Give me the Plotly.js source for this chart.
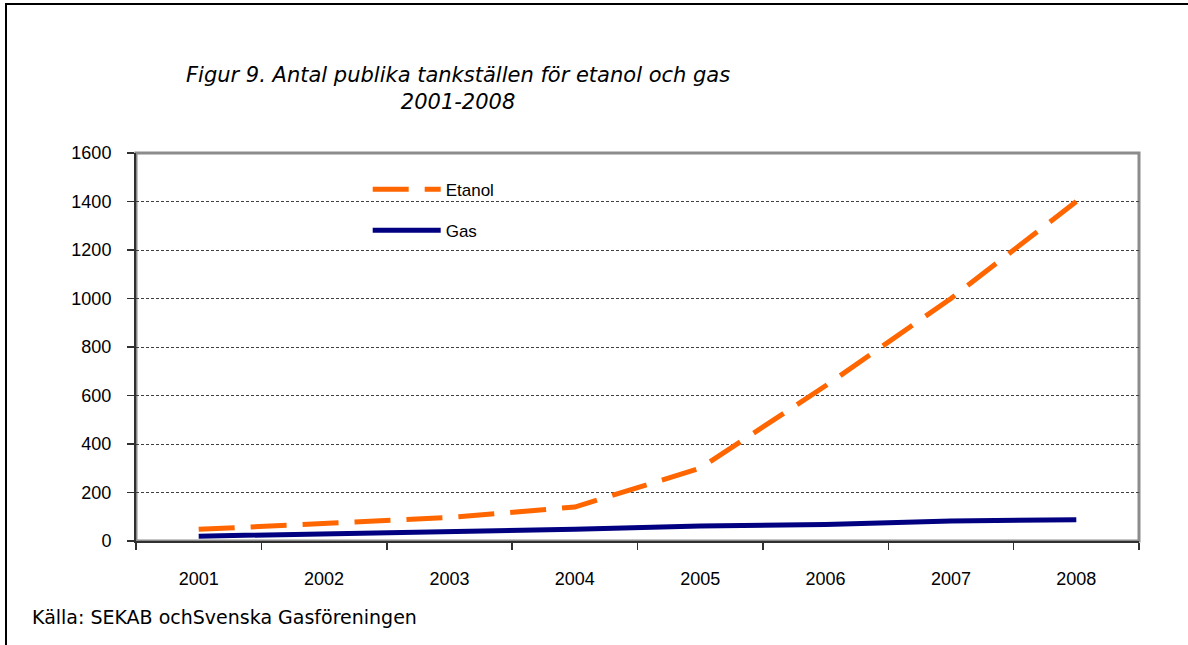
<!DOCTYPE html>
<html>
<head>
<meta charset="utf-8">
<script src="https://cdn.plot.ly/plotly-3.0.1.min.js"></script>
<style>
  html, body { margin: 0; padding: 0; background: #fff; }
  #wrap { position: relative; width: 1188px; height: 645px; }
  #chart { width: 1188px; height: 645px; }
  #frame { position: absolute; left: 5px; top: 3px; width: 1183px; height: 642px;
           border-top: 2px solid #000; border-left: 2px solid #000; box-sizing: border-box; pointer-events: none; }
</style>
</head>
<body>
<div id="wrap">
  <div id="chart"></div>
  <div id="frame"></div>
</div>
<script>
const years = ['2001', '2002', '2003', '2004', '2005', '2006', '2007', '2008'];
const etanol = [48, 75, 97, 140, 300, 640, 1000, 1400];
const gas = [20, 28, 38, 48, 62, 68, 82, 88];
const seriesNames = ['Etanol', 'Gas'];
const titleText = 'Figur 9. Antal publika tankställen för etanol och gas<br>2001-2008';
const sourceText = 'Källa: SEKAB ochSvenska Gasföreningen';

const tickFont = { family: 'Liberation Sans, Arial, sans-serif', size: 18, color: '#000' };

const traces = [
  {
    x: years, y: etanol, name: seriesNames[0], type: 'scatter', mode: 'lines',
    line: { color: '#FF6600', width: 5, dash: '36px,16px' }, legendgroup: 'a'
  },
  {
    x: years, y: gas, name: seriesNames[1], type: 'scatter', mode: 'lines',
    line: { color: '#000080', width: 5 }, legendgroup: 'b'
  }
];

const layout = {
  width: 1188, height: 645,
  margin: { l: 136, r: 49, t: 153, b: 104 },
  paper_bgcolor: '#fff', plot_bgcolor: '#fff',
  showlegend: true,
  legend: {
    x: 0.231, y: 0.952, xanchor: 'left', yanchor: 'top',
    bgcolor: 'rgba(0,0,0,0)', borderwidth: 0,
    font: { family: 'Liberation Sans, Arial, sans-serif', size: 17, color: '#000' },
    traceorder: 'grouped', tracegroupgap: 16, itemwidth: 68
  },
  xaxis: {
    type: 'category', range: [-0.5, 7.5], tickson: 'boundaries',
    ticks: 'outside', ticklen: 7, tickwidth: 1.5, tickcolor: '#303030',
    showline: true, linecolor: '#303030', linewidth: 2,
    showgrid: false, zeroline: false, fixedrange: true,
    tickfont: tickFont, ticklabelstandoff: 20
  },
  yaxis: {
    range: [0, 1600], dtick: 200, tick0: 0,
    ticks: 'outside', ticklen: 7, tickwidth: 1.5, tickcolor: '#303030',
    showline: true, linecolor: '#303030', linewidth: 2,
    showgrid: true, gridcolor: '#404040', gridwidth: 1, griddash: '3px,2px',
    zeroline: false, fixedrange: true,
    tickfont: tickFont, ticklabelstandoff: 12
  },
  shapes: [
    { type: 'rect', xref: 'paper', yref: 'paper', x0: 0, x1: 1, y0: 0, y1: 1,
      line: { color: '#8c8c8c', width: 3 }, layer: 'below' },
    { type: 'rect', xref: 'paper', yref: 'paper', x0: 0.193, x1: 0.411, y0: 0.737, y1: 0.956,
      fillcolor: '#fff', line: { width: 0 }, layer: 'between' }
  ],
  annotations: [
    { text: titleText, xref: 'paper', yref: 'paper', x: 0.321, y: 1.167,
      xanchor: 'center', yanchor: 'middle', showarrow: false, align: 'center',
      font: { family: 'DejaVu Sans, Verdana, sans-serif', size: 21, color: '#000', style: 'italic' } },
    { text: sourceText, xref: 'paper', yref: 'paper', x: -0.106, y: -0.197,
      xanchor: 'left', yanchor: 'middle', showarrow: false, align: 'left',
      font: { family: 'DejaVu Sans, Verdana, sans-serif', size: 19, color: '#000' } }
  ]
};

Plotly.newPlot('chart', traces, layout, { displayModeBar: false, staticPlot: true });
</script>
</body>
</html>
